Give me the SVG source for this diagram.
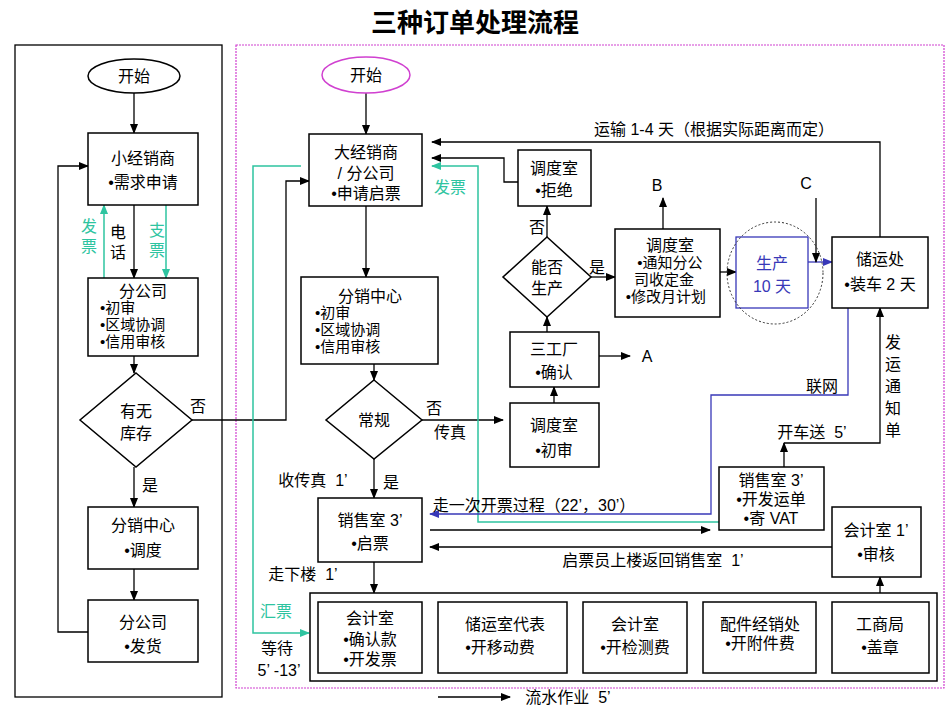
<svg xmlns="http://www.w3.org/2000/svg" width="950" height="713" viewBox="0 0 950 713">
<style>
text{font-family:"Liberation Sans","Noto Sans CJK SC",sans-serif;font-size:16px;fill:#000;text-anchor:middle;white-space:pre}
.b{fill:#fff;stroke:#000;stroke-width:1.5}
.l{fill:none;stroke:#000;stroke-width:1.3}
.g{fill:none;stroke:#2ec4a0;stroke-width:1.5}
.u{fill:none;stroke:#3838b8;stroke-width:1.3}
.gt{fill:#2ec4a0}
.ut{fill:#3838b8}
.s{text-anchor:start}
.t{font-size:15px}
</style>
<defs>
<marker id="a" markerWidth="10" markerHeight="8" refX="9" refY="4" orient="auto" markerUnits="userSpaceOnUse"><path d="M0,0L10,4L0,8z" fill="#000"/></marker>
<marker id="ag" markerWidth="10" markerHeight="8" refX="9" refY="4" orient="auto" markerUnits="userSpaceOnUse"><path d="M0,0L10,4L0,8z" fill="#2ec4a0"/></marker>
<marker id="au" markerWidth="10" markerHeight="8" refX="9" refY="4" orient="auto" markerUnits="userSpaceOnUse"><path d="M0,0L10,4L0,8z" fill="#3838b8"/></marker>
</defs>
<rect width="950" height="713" fill="#fff"/>
<text x="475" y="32" style="font-size:26px;font-weight:bold">三种订单处理流程</text>
<rect x="15" y="45" width="207" height="652" fill="none" stroke="#000" stroke-width="1.3"/>
<rect x="236" y="45" width="708" height="643" fill="none" stroke="#d040d0" stroke-width="1.2" stroke-dasharray="2,1"/>

<g id="connectors">
<path class="l" d="M134,93V133" marker-end="url(#a)"/>
<path class="l" d="M134,205V278" marker-end="url(#a)"/>
<path class="g" d="M104,278V205" marker-end="url(#ag)"/>
<path class="g" d="M166,205V278" marker-end="url(#ag)"/>
<path class="l" d="M134,356V373" marker-end="url(#a)"/>
<path class="l" d="M134,467V507" marker-end="url(#a)"/>
<path class="l" d="M134,569V600" marker-end="url(#a)"/>
<path class="l" d="M88,632H58V166H88" marker-end="url(#a)"/>
<path class="l" d="M192,420H286V181H309" marker-end="url(#a)"/>
<path class="l" d="M366,93V134" marker-end="url(#a)"/>
<path class="l" d="M366,206V277" marker-end="url(#a)"/>
<path class="l" d="M374,364V380" marker-end="url(#a)"/>
<path class="l" d="M422,420H503" marker-end="url(#a)"/>
<path class="l" d="M554,403V387" marker-end="url(#a)"/>
<path class="l" d="M599,356H630" marker-end="url(#a)"/>
<path class="l" d="M547,332V317" marker-end="url(#a)"/>
<path class="l" d="M547,237V206" marker-end="url(#a)"/>
<path class="l" d="M518,182H504V158H432" marker-end="url(#a)"/>
<path class="l" d="M591,277H615" marker-end="url(#a)"/>
<path class="l" d="M663,229V198" marker-end="url(#a)"/>
<path class="l" d="M720,272H736" marker-end="url(#a)"/>
<path class="u" d="M808,262H832" marker-end="url(#au)"/>
<path class="l" d="M816,198V262" marker-end="url(#a)"/>
<path class="l" d="M880,237V142H432" marker-end="url(#a)"/>
<path class="g" d="M719,522H478V166H432" marker-end="url(#ag)"/>
<path class="g" d="M301,166H253V633H309" marker-end="url(#ag)"/>
<path class="u" d="M848,308V395H711V514H430" marker-end="url(#au)"/>
<path class="l" d="M784,467V443" marker-end="url(#a)"/>
<path class="l" d="M784,443H880V308" marker-end="url(#a)"/>
<path class="l" d="M374,459V498" marker-end="url(#a)"/>
<path class="l" d="M430,530H710" marker-end="url(#a)"/>
<path class="l" d="M832,547H430" marker-end="url(#a)"/>
<path class="l" d="M880,593V577" marker-end="url(#a)"/>
<path class="l" d="M374,562V593" marker-end="url(#a)"/>
<path class="l" d="M422,642H438" marker-end="url(#a)"/>
<path class="l" d="M567,642H583" marker-end="url(#a)"/>
<path class="l" d="M687,642H703" marker-end="url(#a)"/>
<path class="l" d="M816,642H832" marker-end="url(#a)"/>
<path class="l" d="M438,697H510" marker-end="url(#a)"/>
</g>

<g id="l-start"><ellipse cx="134" cy="76" rx="46" ry="17" class="b"/><text x="134" y="82">开始</text></g>
<g id="l-small"><rect x="88" y="133" width="110" height="72" class="b"/><text x="143" y="164">小经销商</text><text x="143" y="188">•需求申请</text></g>
<g id="l-branch"><rect x="88" y="278" width="110" height="78" class="b"/><text x="143" y="297">分公司</text><text x="100" y="313" class="s t">•初审</text><text x="100" y="330" class="s t">•区域协调</text><text x="100" y="347" class="s t">•信用审核</text></g>
<g id="l-stock"><path d="M136,373L192,420L136,467L80,420z" class="b"/><text x="136" y="417">有无</text><text x="136" y="439">库存</text></g>
<g id="l-dist"><rect x="88" y="507" width="110" height="62" class="b"/><text x="143" y="531">分销中心</text><text x="143" y="556">•调度</text></g>
<g id="l-ship"><rect x="88" y="600" width="110" height="62" class="b"/><text x="143" y="628">分公司</text><text x="143" y="652">•发货</text></g>
<g id="l-labels"><text x="89" y="232" class="gt">发</text><text x="89" y="252" class="gt">票</text><text x="118" y="238">电</text><text x="118" y="258">话</text><text x="157" y="236" class="gt">支</text><text x="157" y="256" class="gt">票</text><text x="150" y="491">是</text><text x="198" y="412">否</text></g>

<g id="r-start"><ellipse cx="366" cy="75" rx="44" ry="18" fill="#fff" stroke="#d040d0" stroke-width="1.5"/><text x="366" y="81">开始</text></g>
<g id="r-big"><rect x="309" y="134" width="113" height="72" class="b"/><text x="366" y="158">大经销商</text><text x="366" y="179">/ 分公司</text><text x="366" y="199">•申请启票</text></g>
<g id="r-dist"><rect x="301" y="277" width="137" height="87" class="b"/><text x="370" y="302">分销中心</text><text x="315" y="318" class="s t">•初审</text><text x="315" y="335" class="s t">•区域协调</text><text x="315" y="352" class="s t">•信用审核</text></g>
<g id="r-normal"><path d="M374,380L422,420L374,459L326,420z" class="b"/><text x="374" y="426">常规</text></g>
<g id="r-disp1"><rect x="510" y="403" width="89" height="64" class="b"/><text x="554" y="431">调度室</text><text x="554" y="456">•初审</text></g>
<g id="r-factory"><rect x="510" y="332" width="89" height="55" class="b"/><text x="554" y="355">三工厂</text><text x="554" y="378">•确认</text></g>
<g id="r-can"><path d="M547,237L591,277L547,317L503,277z" class="b"/><text x="547" y="273">能否</text><text x="547" y="294">生产</text></g>
<g id="r-reject"><rect x="518" y="150" width="73" height="56" class="b"/><text x="554" y="174">调度室</text><text x="554" y="196">•拒绝</text></g>
<g id="r-notify"><rect x="615" y="229" width="105" height="88" class="b"/><text x="670" y="251">调度室</text><text x="670" y="268" class="t">•通知分公</text><text x="664" y="285" class="t">司收定金</text><text x="666" y="302" class="t">•修改月计划</text></g>
<g id="r-prod"><rect x="736" y="237" width="72" height="71" fill="#fff" stroke="#3838b8" stroke-width="1.3"/><ellipse cx="775" cy="273" rx="48" ry="51" fill="none" stroke="#333" stroke-width="1" stroke-dasharray="2,2"/><text x="772" y="269" class="ut">生产</text><text x="772" y="292" class="ut">10 天</text></g>
<g id="r-store"><rect x="832" y="237" width="96" height="71" class="b"/><text x="880" y="265">储运处</text><text x="880" y="290">•装车 2 天</text></g>
<g id="r-sales2"><rect x="719" y="467" width="105" height="63" class="b"/><text x="771" y="486">销售室 3’</text><text x="771" y="505">•开发运单</text><text x="771" y="524">•寄 VAT</text></g>
<g id="r-sales"><rect x="318" y="498" width="104" height="64" class="b"/><text x="370" y="526">销售室 3’</text><text x="370" y="549">•启票</text></g>
<g id="r-acc1"><rect x="832" y="507" width="89" height="70" class="b"/><text x="876" y="536">会计室 1’</text><text x="876" y="560">•审核</text></g>
<g id="r-pipe"><rect x="310" y="593" width="627" height="88" class="b"/></g>
<g id="p1"><rect x="318" y="602" width="104" height="71" class="b"/><text x="370" y="624">会计室</text><text x="370" y="645">•确认款</text><text x="370" y="665">•开发票</text></g>
<g id="p2"><rect x="438" y="602" width="129" height="71" class="b"/><text x="505" y="630">储运室代表</text><text x="500" y="653">•开移动费</text></g>
<g id="p3"><rect x="583" y="602" width="104" height="71" class="b"/><text x="635" y="630">会计室</text><text x="635" y="653">•开检测费</text></g>
<g id="p4"><rect x="703" y="602" width="113" height="71" class="b"/><text x="760" y="630">配件经销处</text><text x="760" y="649">•开附件费</text></g>
<g id="p5"><rect x="832" y="602" width="97" height="71" class="b"/><text x="880" y="630">工商局</text><text x="880" y="653">•盖章</text></g>
<g id="r-labels">
<text x="714" y="135">运输 1-4 天（根据实际距离而定）</text>
<text x="450" y="193" class="gt">发票</text>
<text x="537" y="233">否</text>
<text x="597" y="273">是</text>
<text x="657" y="191">B</text>
<text x="806" y="189">C</text>
<text x="647" y="362">A</text>
<text x="434" y="414">否</text>
<text x="450" y="438">传真</text>
<text x="822" y="392">联网</text>
<text x="893" y="348">发</text><text x="893" y="370">运</text><text x="893" y="392">通</text><text x="893" y="414">知</text><text x="893" y="436">单</text>
<text x="812" y="438">开车送  5’</text>
<text x="313" y="486">收传真  1’</text>
<text x="391" y="488">是</text>
<text x="534" y="511">走一次开票过程（22’，30’）</text>
<text x="653" y="566">启票员上楼返回销售室  1’</text>
<text x="303" y="580">走下楼  1’</text>
<text x="276" y="617" class="gt">汇票</text>
<text x="277" y="654">等待</text>
<text x="279" y="676">5’ -13’</text>
<text x="568" y="703">流水作业  5’</text>
</g>
</svg>
